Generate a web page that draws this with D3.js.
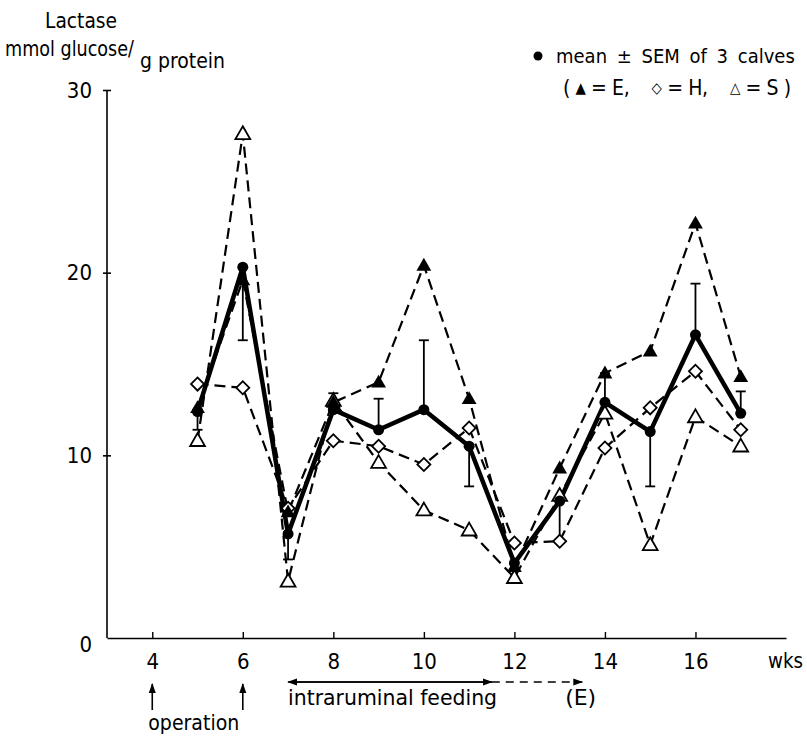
<!DOCTYPE html>
<html>
<head>
<meta charset="utf-8">
<script src="https://cdn.jsdelivr.net/npm/d3@7"></script>
<style>
  body { margin: 0; background: #fff; }
  svg { display: block; }
  text { font-family: "DejaVu Sans", sans-serif; font-stretch: condensed; fill: #000; }
</style>
</head>
<body>
<script>
const width = 807;
const height = 736;

// weeks after birth
const weeks = [5, 6, 7, 8, 9, 10, 11, 12, 13, 14, 15, 16, 17];

// lactase, mmol glucose / g protein
const meanValues = [12.4, 20.3, 5.7, 12.5, 11.4, 12.5, 10.5, 4.1, 7.5, 12.9, 11.3, 16.6, 12.3];
// end of the SEM bar drawn for each mean
const semEnd = [11.4, 16.3, 4.3, 13.4, 13.1, 16.3, 8.3, null, 5.2, 14.5, 8.3, 19.4, 13.5];
const calfE = [12.6, 19.6, 6.9, 12.9, 14.0, 20.4, 13.1, 3.9, 9.3, 14.5, 15.7, 22.7, 14.3];
const calfH = [13.9, 13.7, 7.1, 10.8, 10.5, 9.5, 11.5, 5.2, 5.3, 10.4, 12.6, 14.6, 11.4];
const calfS = [10.8, 27.6, 3.1, 13.0, 9.6, 7.0, 5.9, 3.3, 7.8, 12.3, 5.1, 12.1, 10.5];

const xTicks = [4, 6, 8, 10, 12, 14, 16];
const yTicks = [0, 10, 20, 30];

// annotations below the axis (in weeks)
const operationWeeks = [4, 6];
const feedingStart = 7, feedingEnd = 11.5, feedingDashedEnd = 13.5;

const x = d3.scaleLinear().domain([3, 18]).range([107, 786]);
const y = d3.scaleLinear().domain([0, 30]).range([638, 90]);

const svg = d3.select("body").append("svg")
    .attr("width", width)
    .attr("height", height)
    .attr("viewBox", [0, 0, width, height]);

svg.append("defs").append("marker")
    .attr("id", "head")
    .attr("viewBox", "0 0 10 10")
    .attr("refX", 9).attr("refY", 5)
    .attr("markerWidth", 10).attr("markerHeight", 10)
    .attr("markerUnits", "userSpaceOnUse")
    .attr("orient", "auto")
  .append("path")
    .attr("d", "M0,1.5L10,5L0,8.5Z")
    .attr("fill", "#000");

// helper for text squeezed to the width seen in the figure
function label(px, py, str, len) {
    const t = svg.append("text")
        .attr("x", px).attr("y", py)
        .attr("font-size", 21)
        .text(str);
    if (len) t.attr("textLength", len).attr("lengthAdjust", "spacingAndGlyphs");
    return t;
}

// x axis, ticks point up into the plot
const xAxis = svg.append("g")
    .attr("transform", `translate(0,${y(0)})`)
    .call(d3.axisBottom(x).tickValues(xTicks).tickSizeInner(-6).tickSizeOuter(0).tickPadding(15));
xAxis.select(".domain").attr("stroke-width", 1.6);
xAxis.selectAll(".tick line").attr("stroke-width", 1.4);
xAxis.selectAll(".tick text").attr("font-size", 22).style("font-family", null);

label(768, 668, "wks", 35);

// y axis with small crossing ticks
const yAxis = svg.append("g")
    .attr("transform", `translate(${x(3)},0)`)
    .call(d3.axisLeft(y).tickValues(yTicks).tickSize(4).tickPadding(11));
yAxis.select(".domain").attr("d", `M0,${y(0)}V${y(30)}`).attr("stroke-width", 1.6);
yAxis.selectAll(".tick line").attr("x1", 4).attr("x2", -4).attr("stroke-width", 1.6);
yAxis.selectAll(".tick").filter(d => d === 0).select("line").remove();
yAxis.selectAll(".tick").filter(d => d === 0).select("text").attr("dy", "0.6em");
yAxis.selectAll(".tick text").attr("font-size", 22).style("font-family", null);

// y label
label(45, 28, "Lactase", 72);
label(5, 56, "mmol glucose/", 129);
label(140, 68, "g protein", 85);

// calf lines
const series = [
    { name: "E", values: calfE },
    { name: "H", values: calfH },
    { name: "S", values: calfS }
];

const line = d3.line()
    .defined(d => d[1] != null)
    .x(d => x(d[0]))
    .y(d => y(d[1]));

series.forEach(s => {
    svg.append("path")
        .datum(weeks.map((w, i) => [w, s.values[i]]))
        .attr("fill", "none")
        .attr("stroke", "#000")
        .attr("stroke-width", 2.2)
        .attr("stroke-dasharray", "11,6")
        .attr("d", line);
});

// mean line
svg.append("path")
    .datum(weeks.map((w, i) => [w, meanValues[i]]))
    .attr("fill", "none")
    .attr("stroke", "#000")
    .attr("stroke-width", 4.5)
    .attr("stroke-linejoin", "round")
    .attr("d", line);

// SEM bars
const bars = svg.append("g").attr("stroke", "#000").attr("stroke-width", 1.8);
weeks.forEach((w, i) => {
    if (semEnd[i] == null) return;
    bars.append("line")
        .attr("x1", x(w)).attr("x2", x(w))
        .attr("y1", y(meanValues[i])).attr("y2", y(semEnd[i]));
    bars.append("line")
        .attr("x1", x(w) - 5).attr("x2", x(w) + 5)
        .attr("y1", y(semEnd[i])).attr("y2", y(semEnd[i]));
});

// markers
const tri = d3.symbol(d3.symbolTriangle, 95);
const sq = d3.symbol(d3.symbolSquare, 85);

svg.append("g").selectAll("path")
    .data(weeks.map((w, i) => [w, calfS[i]]))
    .join("path")
    .attr("transform", d => `translate(${x(d[0])},${y(d[1]) + 1})`)
    .attr("d", tri)
    .attr("fill", "#fff")
    .attr("stroke", "#000")
    .attr("stroke-width", 1.8);

svg.append("g").selectAll("path")
    .data(weeks.map((w, i) => [w, calfH[i]]))
    .join("path")
    .attr("transform", d => `translate(${x(d[0])},${y(d[1])}) rotate(45)`)
    .attr("d", sq)
    .attr("fill", "#fff")
    .attr("stroke", "#000")
    .attr("stroke-width", 1.8);

svg.append("g").selectAll("path")
    .data(weeks.map((w, i) => [w, calfE[i]]))
    .join("path")
    .attr("transform", d => `translate(${x(d[0])},${y(d[1]) + 1})`)
    .attr("d", tri)
    .attr("fill", "#000");

svg.append("g").selectAll("circle")
    .data(weeks.map((w, i) => [w, meanValues[i]]))
    .join("circle")
    .attr("cx", d => x(d[0]))
    .attr("cy", d => y(d[1]))
    .attr("r", 5.5)
    .attr("fill", "#000");

// legend
svg.append("circle").attr("cx", 538).attr("cy", 56).attr("r", 4.5).attr("fill", "#000");
label(556, 63, "mean \u00b1 SEM of 3 calves", null)
    .attr("font-size", 20)
    .attr("word-spacing", 4);
const leg2 = label(563, 95, "", null).attr("xml:space", "preserve");
leg2.append("tspan").text("( ");
leg2.append("tspan").attr("font-size", 15).attr("dy", -2).text("\u25b2");
leg2.append("tspan").attr("dy", 2).text(" = E,    ");
leg2.append("tspan").attr("font-size", 15).attr("dy", -2).text("\u25c7");
leg2.append("tspan").attr("dy", 2).text(" = H,    ");
leg2.append("tspan").attr("font-size", 15).attr("dy", -2).text("\u25b3");
leg2.append("tspan").attr("dy", 2).text(" = S )");
leg2.attr("textLength", 228).attr("lengthAdjust", "spacing");

// operation arrows
const ann = svg.append("g").attr("stroke", "#000").attr("stroke-width", 1.6);
operationWeeks.forEach(w => {
    ann.append("line")
        .attr("x1", x(w)).attr("x2", x(w))
        .attr("y1", 710).attr("y2", 684)
        .attr("marker-end", "url(#head)");
});
label(x(4) - 4, 730, "operation", 91);

// intraruminal feeding arrows
ann.append("line")
    .attr("x1", x(feedingEnd)).attr("x2", x(feedingStart))
    .attr("y1", 682).attr("y2", 682)
    .attr("marker-end", "url(#head)");
ann.append("line")
    .attr("x1", x(feedingStart) + 5).attr("x2", x(feedingEnd))
    .attr("y1", 682).attr("y2", 682)
    .attr("marker-end", "url(#head)");
ann.append("line")
    .attr("x1", x(feedingEnd)).attr("x2", x(feedingDashedEnd))
    .attr("y1", 682).attr("y2", 682)
    .attr("stroke-dasharray", "8,6")
    .attr("marker-end", "url(#head)");
label(x(feedingStart), 705, "intraruminal feeding", 209);
label(x(13.1) + 1, 705, "(E)", 31);
</script>
</body>
</html>
